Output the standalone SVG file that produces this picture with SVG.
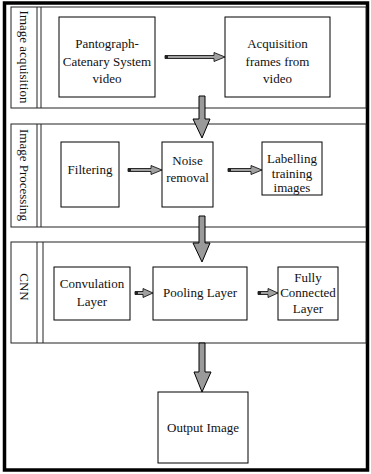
<svg xmlns="http://www.w3.org/2000/svg" width="371" height="474" viewBox="0 0 371 474">
<style>
.frame{fill:none;stroke:#000;stroke-width:3.5}
.sec{fill:#fff;stroke:#222;stroke-width:1}
.col{fill:none;stroke:#222;stroke-width:1}
.box{fill:#fff;stroke:#000;stroke-width:1}
text{font-family:'Liberation Serif','Times New Roman',Times,serif;font-size:13px;fill:#111;text-anchor:middle}
.sa{fill:#a0a0a0;stroke:#000;stroke-width:0.8;stroke-linejoin:miter}
.ba{fill:#9a9a9a;stroke:#000;stroke-width:1}
.tail{fill:#222}
</style>
<rect x="0" y="0" width="371" height="474" fill="#fff"/>
<rect class="frame" x="4.5" y="3" width="363" height="467"/>

<g id="sec-acquisition">
<rect class="sec" x="11" y="7" width="355" height="101"/>
<line class="col" x1="37" y1="7" x2="37" y2="108"/>
<line class="col" x1="41" y1="7" x2="41" y2="108"/>
<text font-family="Liberation Serif, serif" transform="translate(20,57) rotate(90)">Image acquisition</text>
</g>
<g id="sec-processing">
<rect class="sec" x="11" y="124" width="355" height="103"/>
<line class="col" x1="37" y1="124" x2="37" y2="227"/>
<line class="col" x1="41" y1="124" x2="41" y2="227"/>
<text font-family="Liberation Serif, serif" transform="translate(20,175) rotate(90)">Image Processing</text>
</g>
<g id="sec-cnn">
<rect class="sec" x="11" y="242" width="355" height="101"/>
<line class="col" x1="37" y1="242" x2="37" y2="343"/>
<line class="col" x1="43" y1="242" x2="43" y2="343"/>
<text font-family="Liberation Serif, serif" transform="translate(20,287) rotate(90)">CNN</text>
</g>

<g id="connectors">
<path class="sa" d="M165,55.5 H214 V52.5 L225,57 L214,61.5 V58.5 H165 Z"/>
<rect class="tail" x="165" y="55.5" width="3" height="3"/>
<path class="sa" d="M128,168.5 H151 V165.5 L162,170 L151,174.5 V171.5 H128 Z"/>
<rect class="tail" x="128" y="168.5" width="3" height="3"/>
<path class="sa" d="M228,168.5 H251 V165.5 L262,170 L251,174.5 V171.5 H228 Z"/>
<rect class="tail" x="228" y="168.5" width="3" height="3"/>
<path class="sa" d="M135,291.5 H143 V288.5 L153,293 L143,297.5 V294.5 H135 Z"/>
<rect class="tail" x="135" y="291.5" width="3" height="3"/>
<path class="sa" d="M258,291.5 H268 V288.5 L278,293 L268,297.5 V294.5 H258 Z"/>
<rect class="tail" x="258" y="291.5" width="3" height="3"/>
<path class="ba" d="M199,96 H205 V119 H210 L202,138 L193,119 H199 Z"/>
<path class="ba" d="M199,216 H205 V243 H210 L202,262 L193,243 H199 Z"/>
<path class="ba" d="M199,343 H205 V372 H211 L202,392 L194,372 H199 Z"/>
</g>

<g id="n-video">
<rect class="box" x="59" y="17" width="96" height="80"/>
<text x="107" y="48">Pantograph-</text>
<text x="107" y="66">Catenary System</text>
<text x="107" y="83">video</text>
</g>
<g id="n-frames">
<rect class="box" x="225" y="17" width="105" height="80"/>
<text x="277.5" y="48">Acquisition</text>
<text x="277.5" y="66">frames from</text>
<text x="277.5" y="83">video</text>
</g>
<g id="n-filtering">
<rect class="box" x="61" y="142" width="58" height="65"/>
<text x="90" y="174">Filtering</text>
</g>
<g id="n-noise">
<rect class="box" x="162" y="142" width="51" height="65"/>
<text x="187.5" y="165">Noise</text>
<text x="187.5" y="182">removal</text>
</g>
<g id="n-labelling">
<rect class="box" x="262" y="142" width="60" height="53"/>
<text x="292" y="163">Labelling</text>
<text x="292" y="178">training</text>
<text x="292" y="192">images</text>
</g>
<g id="n-conv">
<rect class="box" x="54" y="267" width="76" height="53"/>
<text x="92" y="288">Convulation</text>
<text x="92" y="306">Layer</text>
</g>
<g id="n-pool">
<rect class="box" x="153" y="267" width="94" height="53"/>
<text x="200" y="297">Pooling Layer</text>
</g>
<g id="n-fc">
<rect class="box" x="278" y="267" width="60" height="53"/>
<text x="308" y="282">Fully</text>
<text x="308" y="297">Connected</text>
<text x="308" y="313">Layer</text>
</g>
<g id="n-output">
<rect class="box" x="158" y="392" width="90" height="71"/>
<text x="203" y="432">Output Image</text>
</g>
</svg>
